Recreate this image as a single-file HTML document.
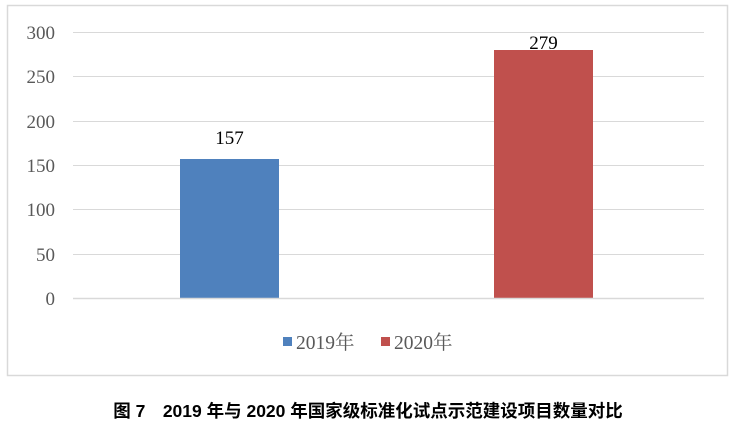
<!DOCTYPE html>
<html><head><meta charset="utf-8"><style>
body{margin:0;width:736px;height:426px;background:#fff;overflow:hidden}
</style></head><body>
<svg width="736" height="426" xmlns="http://www.w3.org/2000/svg">
<rect x="7.5" y="5.5" width="720" height="370" fill="#fff" stroke="#d9d9d9" stroke-width="1.5"/>
<g stroke="#d9d9d9" stroke-width="1">
<line x1="73" x2="704" y1="32.5" y2="32.5"/>
<line x1="73" x2="704" y1="76.5" y2="76.5"/>
<line x1="73" x2="704" y1="121.5" y2="121.5"/>
<line x1="73" x2="704" y1="165.5" y2="165.5"/>
<line x1="73" x2="704" y1="209.5" y2="209.5"/>
<line x1="73" x2="704" y1="254.5" y2="254.5"/>
</g>
<rect x="180" y="159" width="99" height="139" fill="#4f81bd"/>
<rect x="494" y="50" width="99" height="248" fill="#c0504d"/>
<line x1="73" x2="704" y1="298.5" y2="298.5" stroke="#d9d9d9" stroke-width="1.5"/>
<g font-family="Liberation Serif, serif" font-size="19" fill="#595959" text-anchor="end">
<text x="55" y="39">300</text><text x="55" y="83">250</text><text x="55" y="128">200</text>
<text x="55" y="172">150</text><text x="55" y="216">100</text><text x="55" y="261">50</text>
<text x="55" y="305">0</text>
</g>
<g font-family="Liberation Serif, serif" font-size="19" fill="#000" text-anchor="middle">
<text x="229.5" y="144">157</text><text x="543.5" y="49">279</text>
</g>
<rect x="283" y="337" width="9" height="9" fill="#4f81bd"/>
<rect x="381" y="337" width="9" height="9" fill="#c0504d"/>
<g font-family="Liberation Serif, 'Noto Serif CJK SC', serif" font-size="19.5" fill="#595959">
<text x="296" y="349">2019年</text><text x="394" y="349">2020年</text>
</g>
<text x="368" y="417" text-anchor="middle" font-family="Liberation Sans, 'Noto Sans CJK SC', sans-serif" font-size="17.5" font-weight="bold" fill="#000">图 7　2019 年与 2020 年国家级标准化试点示范建设项目数量对比</text>
</svg>
</body></html>
